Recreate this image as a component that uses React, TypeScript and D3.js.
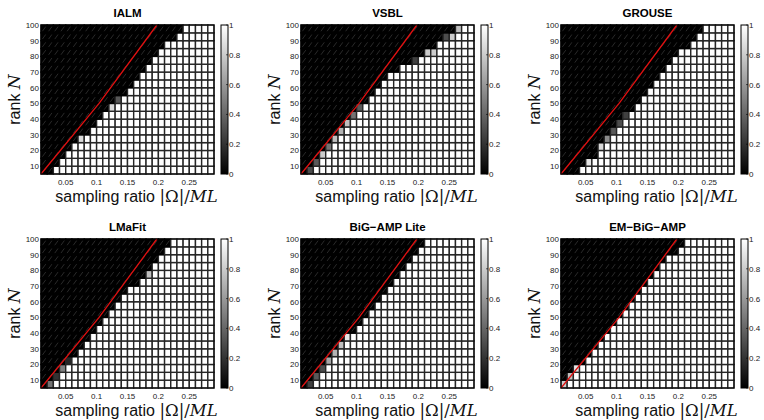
import React from 'react';
import * as d3 from 'd3';

// grid edges (pcolor style: cells sit between edges)
const ratioEdges = [0.01, 0.02, 0.03, 0.04, 0.05, 0.06, 0.07, 0.08, 0.09, 0.1, 0.11, 0.12, 0.13, 0.14, 0.15,
  0.16, 0.17, 0.18, 0.19, 0.2, 0.21, 0.22, 0.23, 0.24, 0.25, 0.26, 0.27, 0.28, 0.29];
const rankEdges = [5, 10, 15, 20, 25, 30, 35, 40, 45, 50, 55, 60, 65, 70, 75, 80, 85, 90, 95, 100];

const xTicks = [0.05, 0.1, 0.15, 0.2, 0.25];
const yTicks = [10, 20, 30, 40, 50, 60, 70, 80, 90, 100];
const cbTicks = [0, 0.2, 0.4, 0.6, 0.8, 1];

// theoretical bound drawn in red (ratio, rank)
const boundRatio = [0.01, 0.104, 0.1975];
const boundRank = [5, 50, 100];

const titles = ['IALM', 'VSBL', 'GROUSE', 'LMaFit', 'BiG\u2212AMP Lite', 'EM\u2212BiG\u2212AMP'];

// first column (index into ratioEdges) that is fully successful, per rank row, bottom to top
const ialmWhite = [2, 3, 4, 5, 7, 8, 9, 10, 12, 13, 14, 15, 16, 17, 18, 19, 20, 22, 23];
const vsblWhite = [2, 3, 4, 5, 6, 7, 8, 9, 10, 11, 12, 13, 14, 16, 19, 22, 22, 25, 26];
const grouseWhite = [3, 5, 6, 7, 8, 9, 10, 11, 12, 13, 14, 15, 16, 17, 18, 19, 21, 22, 23];
const lmafitWhite = [2, 3, 4, 5, 6, 7, 8, 9, 10, 11, 12, 13, 14, 16, 18, 18, 19, 20, 21];
const bigampWhite = [2, 3, 4, 5, 6, 7, 8, 9, 10, 11, 12, 13, 14, 15, 16, 17, 18, 19, 20];
const embigampWhite = [1, 2, 3, 4, 5, 6, 7, 8, 9, 10, 11, 12, 13, 14, 15, 16, 17, 19, 20];

// partial success cells: [row, col, value]
const ialmGray = [[4, 6, 0.85], [8, 11, 0.85], [9, 12, 0.35]];
const vsblGray = [[0, 1, 0.3], [1, 2, 0.35], [2, 3, 0.8], [3, 4, 0.45], [4, 5, 0.75], [5, 6, 0.7],
  [6, 7, 0.75], [7, 8, 0.45], [8, 9, 0.35], [14, 18, 0.25], [15, 20, 0.8], [15, 21, 0.8],
  [17, 23, 0.3], [17, 24, 0.8], [18, 25, 0.75]];
const grouseGray = [[1, 4, 0.9], [3, 6, 0.85], [4, 7, 0.55], [5, 8, 0.35], [6, 9, 0.3], [7, 10, 0.25]];
const lmafitGray = [[0, 1, 0.45], [1, 2, 0.2], [2, 3, 0.5], [3, 4, 0.15], [14, 17, 0.75]];
const bigampGray = [[0, 1, 0.25], [1, 2, 0.35], [2, 3, 0.3], [3, 4, 0.65], [4, 5, 0.7], [5, 6, 0.75], [6, 7, 0.9]];
const embigampGray = [[0, 0, 0.8], [1, 1, 0.75], [2, 2, 0.9]];

const whiteStarts = [ialmWhite, vsblWhite, grouseWhite, lmafitWhite, bigampWhite, embigampWhite];
const grays = [ialmGray, vsblGray, grouseGray, lmafitGray, bigampGray, embigampGray];

const W = 173;
const H = 149;
const lefts = [41, 301, 561];
const tops = [25, 239];

const x = d3.scaleLinear().domain([0.01, 0.29]).range([0, W]);
const y = d3.scaleLinear().domain([5, 100]).range([H, 0]);
const cbY = d3.scaleLinear().domain([0, 1]).range([H, 0]);
const grey = d3.scaleLinear<string>().domain([0, 1]).range(['#000000', '#ffffff']);
const bound = d3.line<number>().x((d, i) => x(boundRatio[i])).y(d => y(d));

const tickFont = 'Liberation Sans, Arial, sans-serif';

function Panel({ idx }: { idx: number }) {
  const col = idx % 3;
  const row = Math.floor(idx / 3);
  const first = whiteStarts[idx];
  const grayMap = new Map(grays[idx].map(g => [`${g[0]}-${g[1]}`, g[2]]));
  const cells: { r: number; c: number; v: number }[] = [];
  for (let r = 0; r < rankEdges.length - 1; r++) {
    for (let c = 0; c < ratioEdges.length - 1; c++) {
      const key = `${r}-${c}`;
      const v = grayMap.has(key) ? (grayMap.get(key) as number) : c >= first[r] ? 1 : 0;
      cells.push({ r, c, v });
    }
  }
  const gradId = `cb${idx}`;
  return (
    <g transform={`translate(${lefts[col]},${tops[row]})`}>
      <text x={W / 2} y={-8} textAnchor="middle" fontFamily={tickFont} fontWeight="bold" fontSize={11.5}>
        {titles[idx]}
      </text>
      <rect x={0} y={0} width={W} height={H} fill="#000" />
      {cells.map(d => {
        const x0 = x(ratioEdges[d.c]);
        const x1 = x(ratioEdges[d.c + 1]);
        const y0 = y(rankEdges[d.r + 1]);
        const y1 = y(rankEdges[d.r]);
        return (
          <g key={`${d.r}-${d.c}`}>
            <rect x={x0} y={y0} width={x1 - x0} height={y1 - y0} fill={grey(d.v)}
              stroke={d.v < 0.1 ? '#000' : '#262626'} strokeWidth={1.4} />
            {d.v < 0.1 && (
              <line x1={x0 + 1.4} y1={y1 - 1.6} x2={x1 - 1.4} y2={y0 + 1.6} stroke="#555" strokeWidth={0.5} />
            )}
          </g>
        );
      })}
      <path d={bound(boundRank) || ''} fill="none" stroke="#e01010" strokeWidth={1.3} />
      <rect x={0} y={0} width={W} height={H} fill="none" stroke="#000" strokeWidth={1} />
      {xTicks.map(t => (
        <text key={t} x={x(t)} y={H + 10.5} textAnchor="middle" fontFamily={tickFont} fontSize={8} fill="#222">
          {String(t)}
        </text>
      ))}
      {yTicks.map(t => (
        <text key={t} x={-2} y={y(t) + 3} textAnchor="end" fontFamily={tickFont} fontSize={8} fill="#222">
          {String(t)}
        </text>
      ))}
      <text x={W / 2 + 9} y={H + 28} textAnchor="middle" fill="#111">
        <tspan fontFamily={tickFont} fontSize={16}>sampling ratio </tspan>
        <tspan fontFamily="DejaVu Serif, serif" fontSize={16.5}>|Ω|/</tspan>
        <tspan fontFamily="DejaVu Serif, serif" fontSize={16.5} fontStyle="italic">ML</tspan>
      </text>
      <text transform={`translate(-21,${H / 2}) rotate(-90)`} textAnchor="middle" fill="#111">
        <tspan fontFamily={tickFont} fontSize={16}>rank </tspan>
        <tspan fontFamily="DejaVu Serif, serif" fontSize={17} fontStyle="italic">N</tspan>
      </text>
      <defs>
        <linearGradient id={gradId} x1="0" y1="1" x2="0" y2="0">
          <stop offset="0" stopColor="#000" />
          <stop offset="1" stopColor="#fff" />
        </linearGradient>
      </defs>
      <g transform={`translate(${W + 7},0)`}>
        <rect x={0} y={0} width={7} height={H} fill={`url(#${gradId})`} stroke="#000" strokeWidth={1} />
        {cbTicks.map(t => (
          <g key={t}>
            <line x1={5} x2={7} y1={cbY(t)} y2={cbY(t)} stroke="#000" strokeWidth={0.6} />
            <text x={8} y={cbY(t) + 3} fontFamily={tickFont} fontSize={8} fill="#222">
              {String(t)}
            </text>
          </g>
        ))}
      </g>
    </g>
  );
}

export default function App() {
  return (
    <svg width={764} height={420} style={{ position: 'absolute', left: 0, top: 0, background: '#fff' }}>
      {titles.map((t, i) => (
        <Panel key={t} idx={i} />
      ))}
    </svg>
  );
}
